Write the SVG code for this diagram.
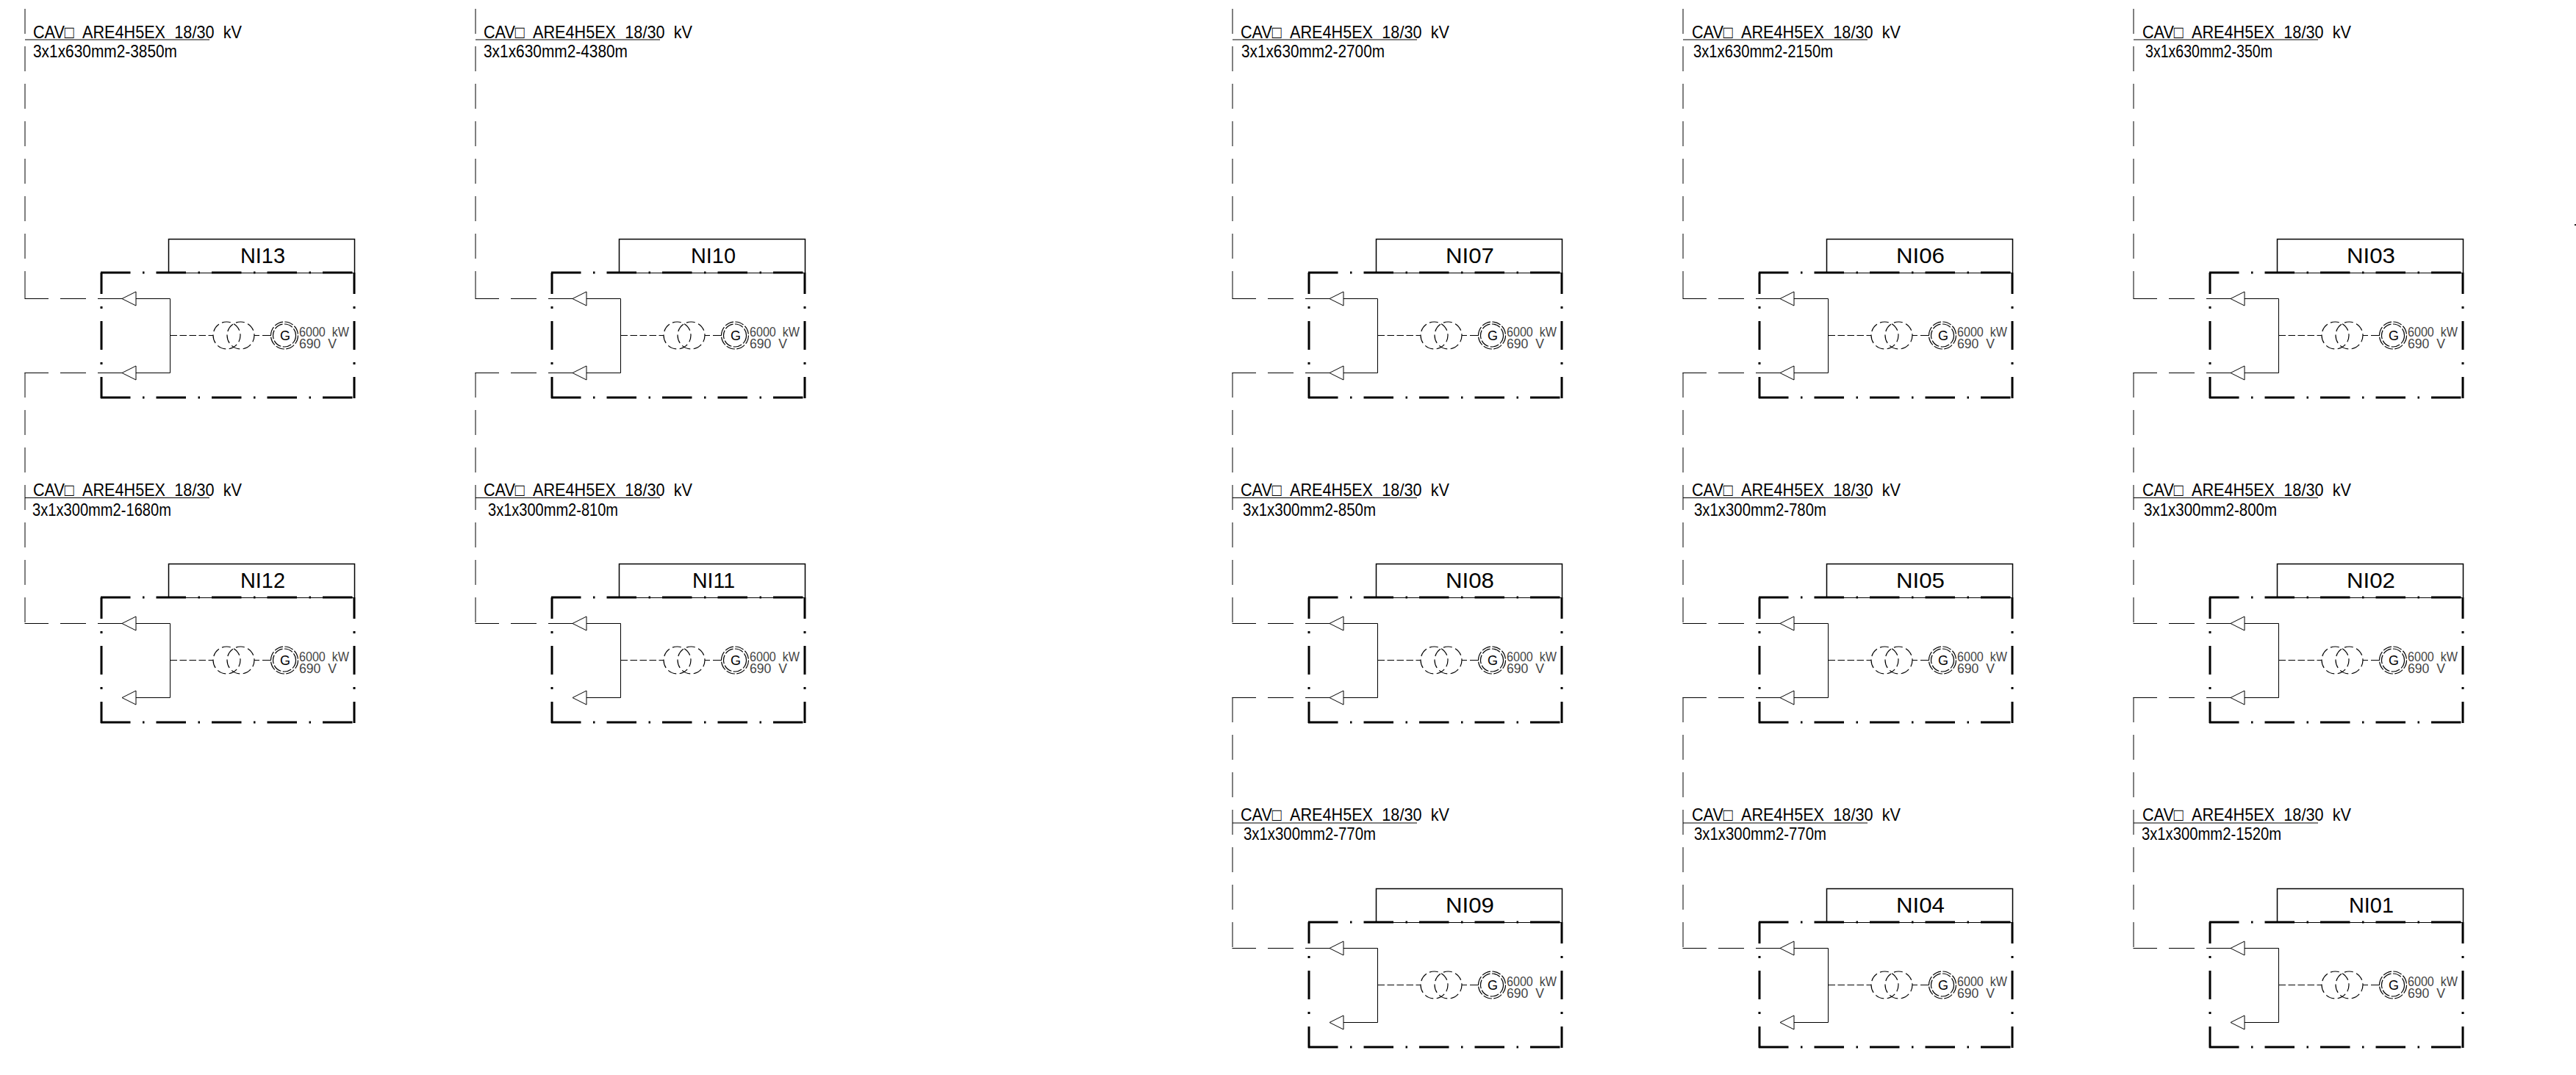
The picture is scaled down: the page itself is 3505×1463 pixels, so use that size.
<svg xmlns="http://www.w3.org/2000/svg" width="3505" height="1463" viewBox="0 0 3505 1463">
<style>
text{font-family:"Liberation Sans",Arial,sans-serif;fill:#000}
.cab{font-size:24px;word-spacing:7px}
.name{font-size:29.500px}
.rate{font-size:18px;fill:#444;word-spacing:5px}
.g{font-size:18px}
.thin{fill:none;stroke:#000;stroke-width:1}
.box{fill:none;stroke:#000;stroke-width:1.500}
.bd{fill:none;stroke:#000;stroke-width:3}
.bh{stroke-dasharray:40.500 16.500 2.500 16}
.bv{stroke-dasharray:39 17 3 17;stroke-dashoffset:10}
.dash{fill:none;stroke:#000;stroke-width:1;stroke-dasharray:9.500 3.500}
.ring{fill:none;stroke:#000;stroke-width:1.200;stroke-dasharray:12 4.600;stroke-dashoffset:3}
.ring2{fill:none;stroke:#000;stroke-width:1.200;stroke-dasharray:12 2.500}
.wire{fill:none;stroke:#000;stroke-width:1}
.dv{stroke-dasharray:34 17}
.arrow{fill:#fff;stroke:#000;stroke-width:1}
</style>
<defs>
<g id="unit">
<path class="box" d="M229.500 371V325.500H482.500V371"/>
<path class="thin" d="M229 371.500H482"/>
<path class="bd bh" d="M137 371H483"/>
<path class="bd bh" d="M137 541H483"/>
<path class="bd bv" d="M138 371V542"/>
<path class="bd bv" d="M482 371V542"/>
<path class="thin" d="M185 406.500H231.500V507.500H185"/>
<polygon class="arrow" points="166,406.500 185,397 185,416"/>
<polygon class="arrow" points="166,507.500 185,498 185,517"/>
<path class="dash" d="M231.500 456.500H290"/>
<circle class="ring" cx="308.500" cy="456.500" r="18.500"/>
<circle class="ring" cx="327.500" cy="456.500" r="18.500"/>
<path class="thin" d="M346 456.500H353M357 456.500H369"/>
<circle class="ring2" cx="387" cy="456.500" r="18.500"/>
<circle class="ring2" cx="387" cy="456.500" r="15.500"/>
</g>
<g id="feed">
<path class="wire dv" d="M34 12V403M34 403V406"/>
<path class="wire" d="M33.500 406.500H66M82 406.500H117M133 406.500H166"/>
</g>
<g id="link1">
<path class="wire" d="M33.500 507.500H66M82 507.500H117M133 507.500H166"/>
<path class="wire dv" d="M34 507V848"/>
<path class="wire" d="M33.500 848.500H66M82 848.500H117M133 848.500H166"/>
</g>
</defs>
<g id="connectors">
<use href="#feed"/>
<use href="#link1"/>
<use href="#feed" x="613"/>
<use href="#link1" x="613"/>
<use href="#feed" x="1643"/>
<use href="#link1" x="1643"/>
<use href="#link1" x="1643" y="442"/>
<use href="#feed" x="2256"/>
<use href="#link1" x="2256"/>
<use href="#link1" x="2256" y="442"/>
<use href="#feed" x="2869"/>
<use href="#link1" x="2869"/>
<use href="#link1" x="2869" y="442"/>
</g>
<g id="cable-labels">
<g id="cable-NI13"><path class="thin" d="M34 54H285"/><text class="cab" x="45" y="52" textLength="284" lengthAdjust="spacingAndGlyphs">CAV□ ARE4H5EX 18/30 kV</text><text class="cab" x="45" y="78" textLength="196" lengthAdjust="spacingAndGlyphs">3x1x630mm2-3850m</text></g>
<g id="cable-NI12"><path class="thin" d="M34 677.500H285"/><text class="cab" x="45" y="674.500" textLength="284" lengthAdjust="spacingAndGlyphs">CAV□ ARE4H5EX 18/30 kV</text><text class="cab" x="44" y="701.500" textLength="189" lengthAdjust="spacingAndGlyphs">3x1x300mm2-1680m</text></g>
<g id="cable-NI10"><path class="thin" d="M647 54H898"/><text class="cab" x="658" y="52" textLength="284" lengthAdjust="spacingAndGlyphs">CAV□ ARE4H5EX 18/30 kV</text><text class="cab" x="658" y="78" textLength="196" lengthAdjust="spacingAndGlyphs">3x1x630mm2-4380m</text></g>
<g id="cable-NI11"><path class="thin" d="M647 677.500H898"/><text class="cab" x="658" y="674.500" textLength="284" lengthAdjust="spacingAndGlyphs">CAV□ ARE4H5EX 18/30 kV</text><text class="cab" x="664" y="701.500" textLength="177" lengthAdjust="spacingAndGlyphs">3x1x300mm2-810m</text></g>
<g id="cable-NI07"><path class="thin" d="M1677 54H1928"/><text class="cab" x="1688" y="52" textLength="284" lengthAdjust="spacingAndGlyphs">CAV□ ARE4H5EX 18/30 kV</text><text class="cab" x="1689" y="78" textLength="195" lengthAdjust="spacingAndGlyphs">3x1x630mm2-2700m</text></g>
<g id="cable-NI08"><path class="thin" d="M1677 677.500H1928"/><text class="cab" x="1688" y="674.500" textLength="284" lengthAdjust="spacingAndGlyphs">CAV□ ARE4H5EX 18/30 kV</text><text class="cab" x="1691" y="701.500" textLength="181" lengthAdjust="spacingAndGlyphs">3x1x300mm2-850m</text></g>
<g id="cable-NI09"><path class="thin" d="M1677 1120H1928"/><text class="cab" x="1688" y="1116.500" textLength="284" lengthAdjust="spacingAndGlyphs">CAV□ ARE4H5EX 18/30 kV</text><text class="cab" x="1692" y="1143" textLength="180" lengthAdjust="spacingAndGlyphs">3x1x300mm2-770m</text></g>
<g id="cable-NI06"><path class="thin" d="M2290 54H2541"/><text class="cab" x="2302" y="52" textLength="284" lengthAdjust="spacingAndGlyphs">CAV□ ARE4H5EX 18/30 kV</text><text class="cab" x="2304" y="78" textLength="190" lengthAdjust="spacingAndGlyphs">3x1x630mm2-2150m</text></g>
<g id="cable-NI05"><path class="thin" d="M2290 677.500H2541"/><text class="cab" x="2302" y="674.500" textLength="284" lengthAdjust="spacingAndGlyphs">CAV□ ARE4H5EX 18/30 kV</text><text class="cab" x="2305" y="701.500" textLength="180" lengthAdjust="spacingAndGlyphs">3x1x300mm2-780m</text></g>
<g id="cable-NI04"><path class="thin" d="M2290 1120H2541"/><text class="cab" x="2302" y="1116.500" textLength="284" lengthAdjust="spacingAndGlyphs">CAV□ ARE4H5EX 18/30 kV</text><text class="cab" x="2305" y="1143" textLength="180" lengthAdjust="spacingAndGlyphs">3x1x300mm2-770m</text></g>
<g id="cable-NI03"><path class="thin" d="M2903 54H3154"/><text class="cab" x="2915" y="52" textLength="284" lengthAdjust="spacingAndGlyphs">CAV□ ARE4H5EX 18/30 kV</text><text class="cab" x="2919" y="78" textLength="173" lengthAdjust="spacingAndGlyphs">3x1x630mm2-350m</text></g>
<g id="cable-NI02"><path class="thin" d="M2903 677.500H3154"/><text class="cab" x="2915" y="674.500" textLength="284" lengthAdjust="spacingAndGlyphs">CAV□ ARE4H5EX 18/30 kV</text><text class="cab" x="2917" y="701.500" textLength="181" lengthAdjust="spacingAndGlyphs">3x1x300mm2-800m</text></g>
<g id="cable-NI01"><path class="thin" d="M2903 1120H3154"/><text class="cab" x="2915" y="1116.500" textLength="284" lengthAdjust="spacingAndGlyphs">CAV□ ARE4H5EX 18/30 kV</text><text class="cab" x="2914" y="1143" textLength="190" lengthAdjust="spacingAndGlyphs">3x1x300mm2-1520m</text></g>
</g>
<g id="NI13" transform="translate(0 0)"><use href="#unit"/><text class="name" x="327" y="358" textLength="61" lengthAdjust="spacingAndGlyphs">NI13</text><text class="g" x="381" y="463">G</text><text class="rate" x="407" y="458" textLength="68" lengthAdjust="spacingAndGlyphs">6000 kW</text><text class="rate" x="407" y="474" textLength="51" lengthAdjust="spacingAndGlyphs">690 V</text></g>
<g id="NI12" transform="translate(0 442)"><use href="#unit"/><text class="name" x="327" y="358" textLength="61" lengthAdjust="spacingAndGlyphs">NI12</text><text class="g" x="381" y="463">G</text><text class="rate" x="407" y="458" textLength="68" lengthAdjust="spacingAndGlyphs">6000 kW</text><text class="rate" x="407" y="474" textLength="51" lengthAdjust="spacingAndGlyphs">690 V</text></g>
<g id="NI10" transform="translate(613 0)"><use href="#unit"/><text class="name" x="327" y="358" textLength="61" lengthAdjust="spacingAndGlyphs">NI10</text><text class="g" x="381" y="463">G</text><text class="rate" x="407" y="458" textLength="68" lengthAdjust="spacingAndGlyphs">6000 kW</text><text class="rate" x="407" y="474" textLength="51" lengthAdjust="spacingAndGlyphs">690 V</text></g>
<g id="NI11" transform="translate(613 442)"><use href="#unit"/><text class="name" x="329" y="358" textLength="58" lengthAdjust="spacingAndGlyphs">NI11</text><text class="g" x="381" y="463">G</text><text class="rate" x="407" y="458" textLength="68" lengthAdjust="spacingAndGlyphs">6000 kW</text><text class="rate" x="407" y="474" textLength="51" lengthAdjust="spacingAndGlyphs">690 V</text></g>
<g id="NI07" transform="translate(1643 0)"><use href="#unit"/><text class="name" x="324" y="358" textLength="66" lengthAdjust="spacingAndGlyphs">NI07</text><text class="g" x="381" y="463">G</text><text class="rate" x="407" y="458" textLength="68" lengthAdjust="spacingAndGlyphs">6000 kW</text><text class="rate" x="407" y="474" textLength="51" lengthAdjust="spacingAndGlyphs">690 V</text></g>
<g id="NI08" transform="translate(1643 442)"><use href="#unit"/><text class="name" x="324" y="358" textLength="66" lengthAdjust="spacingAndGlyphs">NI08</text><text class="g" x="381" y="463">G</text><text class="rate" x="407" y="458" textLength="68" lengthAdjust="spacingAndGlyphs">6000 kW</text><text class="rate" x="407" y="474" textLength="51" lengthAdjust="spacingAndGlyphs">690 V</text></g>
<g id="NI09" transform="translate(1643 884)"><use href="#unit"/><text class="name" x="324" y="358" textLength="66" lengthAdjust="spacingAndGlyphs">NI09</text><text class="g" x="381" y="463">G</text><text class="rate" x="407" y="458" textLength="68" lengthAdjust="spacingAndGlyphs">6000 kW</text><text class="rate" x="407" y="474" textLength="51" lengthAdjust="spacingAndGlyphs">690 V</text></g>
<g id="NI06" transform="translate(2256 0)"><use href="#unit"/><text class="name" x="324" y="358" textLength="66" lengthAdjust="spacingAndGlyphs">NI06</text><text class="g" x="381" y="463">G</text><text class="rate" x="407" y="458" textLength="68" lengthAdjust="spacingAndGlyphs">6000 kW</text><text class="rate" x="407" y="474" textLength="51" lengthAdjust="spacingAndGlyphs">690 V</text></g>
<g id="NI05" transform="translate(2256 442)"><use href="#unit"/><text class="name" x="324" y="358" textLength="66" lengthAdjust="spacingAndGlyphs">NI05</text><text class="g" x="381" y="463">G</text><text class="rate" x="407" y="458" textLength="68" lengthAdjust="spacingAndGlyphs">6000 kW</text><text class="rate" x="407" y="474" textLength="51" lengthAdjust="spacingAndGlyphs">690 V</text></g>
<g id="NI04" transform="translate(2256 884)"><use href="#unit"/><text class="name" x="324" y="358" textLength="66" lengthAdjust="spacingAndGlyphs">NI04</text><text class="g" x="381" y="463">G</text><text class="rate" x="407" y="458" textLength="68" lengthAdjust="spacingAndGlyphs">6000 kW</text><text class="rate" x="407" y="474" textLength="51" lengthAdjust="spacingAndGlyphs">690 V</text></g>
<g id="NI03" transform="translate(2869 0)"><use href="#unit"/><text class="name" x="324" y="358" textLength="66" lengthAdjust="spacingAndGlyphs">NI03</text><text class="g" x="381" y="463">G</text><text class="rate" x="407" y="458" textLength="68" lengthAdjust="spacingAndGlyphs">6000 kW</text><text class="rate" x="407" y="474" textLength="51" lengthAdjust="spacingAndGlyphs">690 V</text></g>
<g id="NI02" transform="translate(2869 442)"><use href="#unit"/><text class="name" x="324" y="358" textLength="66" lengthAdjust="spacingAndGlyphs">NI02</text><text class="g" x="381" y="463">G</text><text class="rate" x="407" y="458" textLength="68" lengthAdjust="spacingAndGlyphs">6000 kW</text><text class="rate" x="407" y="474" textLength="51" lengthAdjust="spacingAndGlyphs">690 V</text></g>
<g id="NI01" transform="translate(2869 884)"><use href="#unit"/><text class="name" x="327" y="358" textLength="61" lengthAdjust="spacingAndGlyphs">NI01</text><text class="g" x="381" y="463">G</text><text class="rate" x="407" y="458" textLength="68" lengthAdjust="spacingAndGlyphs">6000 kW</text><text class="rate" x="407" y="474" textLength="51" lengthAdjust="spacingAndGlyphs">690 V</text></g>
<rect x="3503" y="305" width="2" height="2" fill="#222"/>
</svg>
